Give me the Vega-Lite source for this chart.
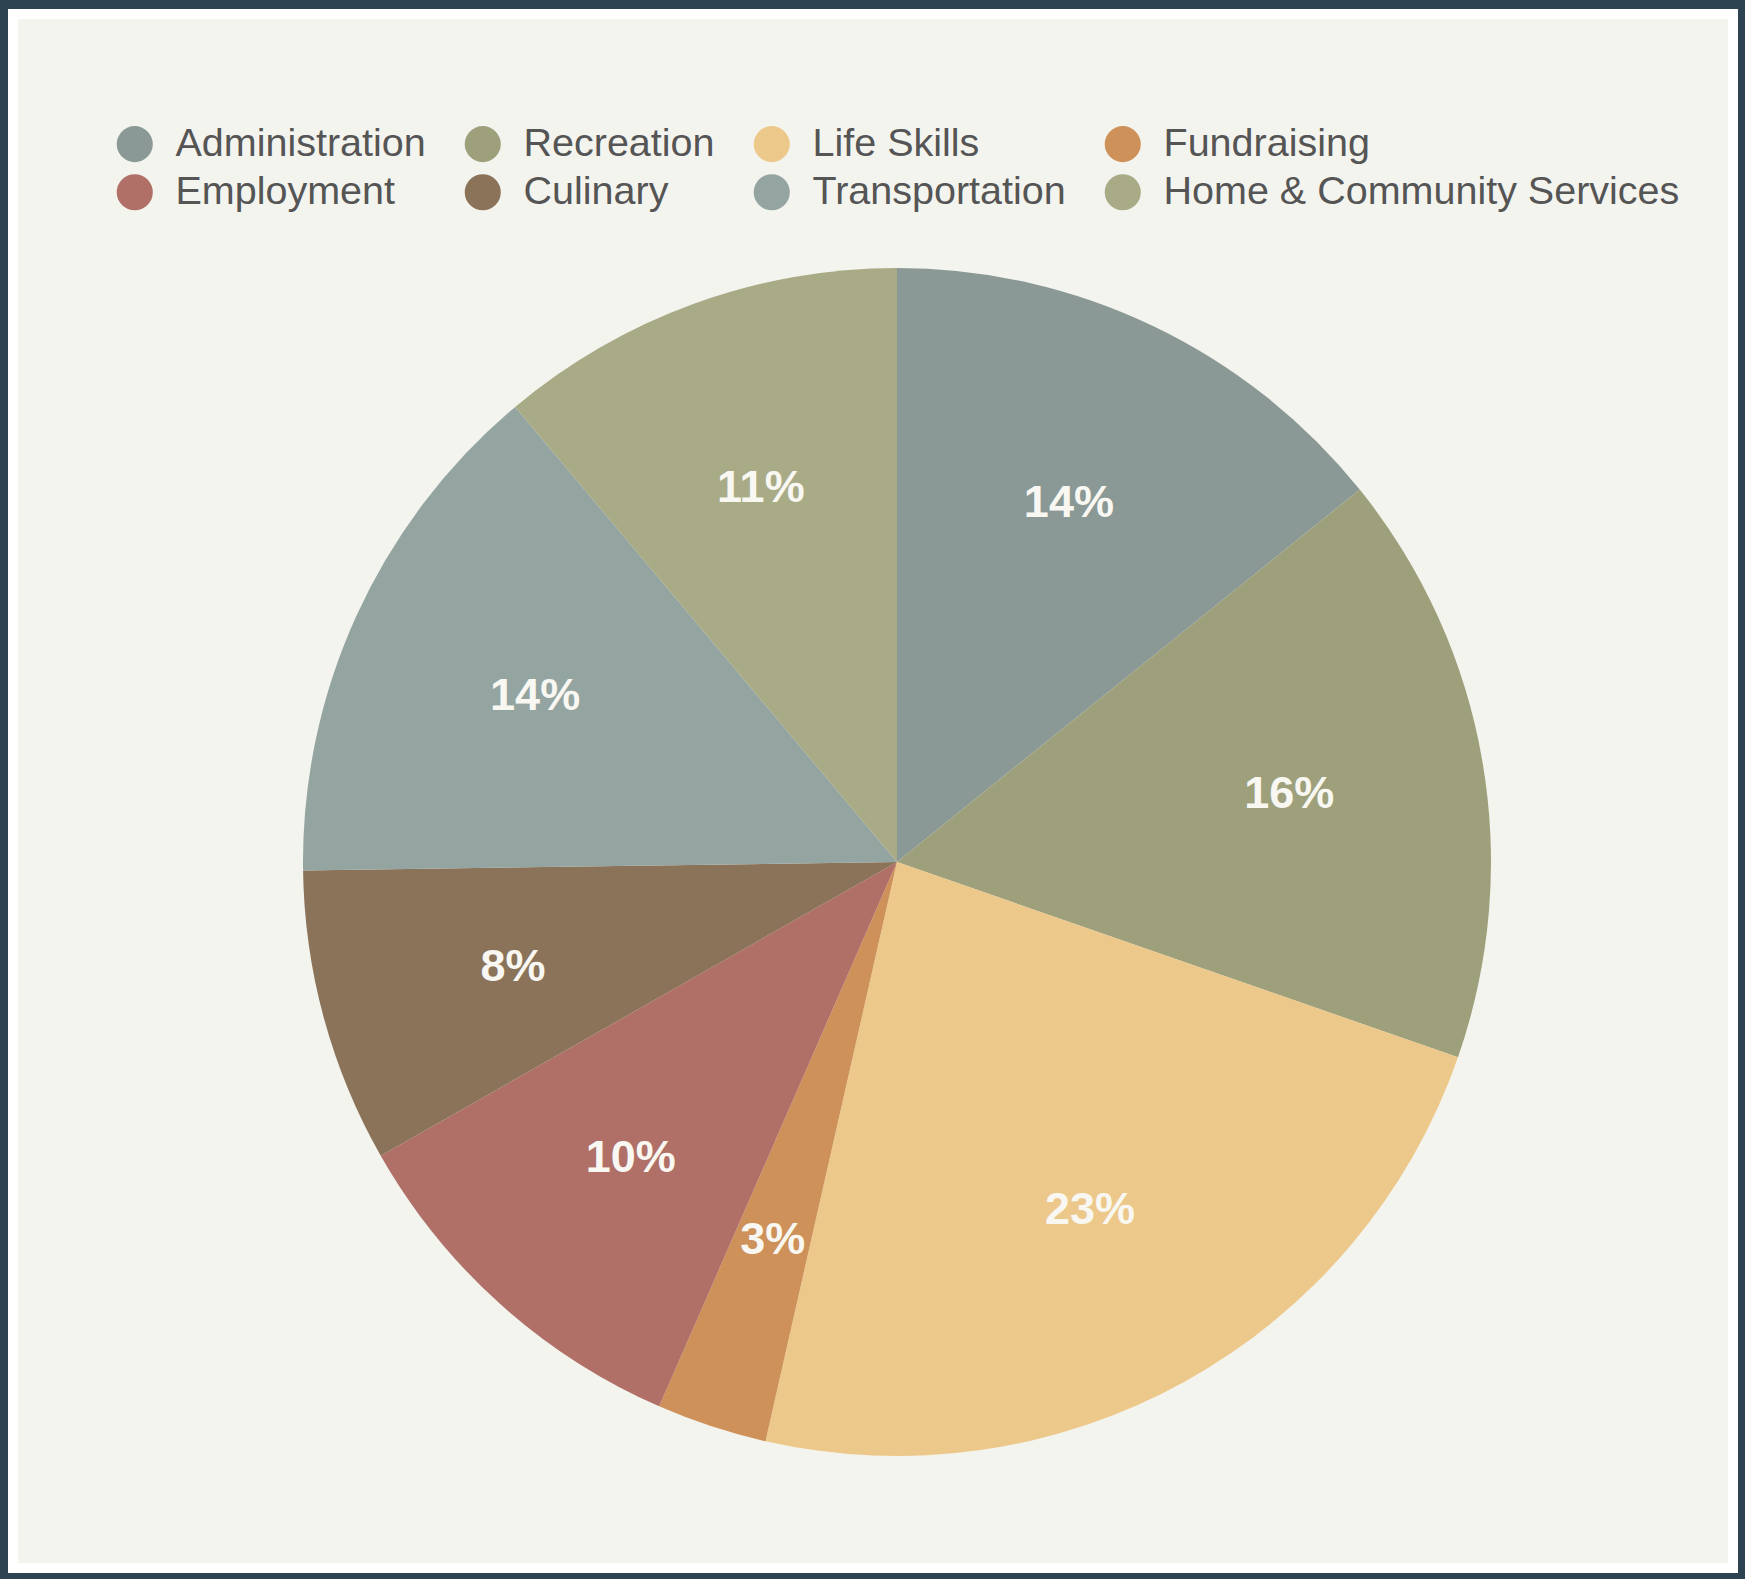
{
  "$schema": "https://vega.github.io/schema/vega-lite/v6.json",
  "autosize": "none",
  "width": 1720,
  "height": 1554,
  "padding": {"left": 13, "top": 14, "right": 12, "bottom": 11},
  "background": "#2d4352",
  "view": {"fill": "#f4f4ef", "stroke": "#ffffff", "strokeWidth": 10},
  "data": {
    "values": [
      {"category": "Administration", "share": 14.2, "label": "14%", "order": 1},
      {"category": "Recreation", "share": 16.1, "label": "16%", "order": 2},
      {"category": "Life Skills", "share": 23.2, "label": "23%", "order": 3},
      {"category": "Fundraising", "share": 3.0, "label": "3%", "order": 4},
      {"category": "Employment", "share": 10.2, "label": "10%", "order": 5},
      {"category": "Culinary", "share": 8.0, "label": "8%", "order": 6},
      {"category": "Transportation", "share": 14.1, "label": "14%", "order": 7},
      {"category": "Home & Community Services", "share": 11.1, "label": "11%", "order": 8}
    ]
  },
  "encoding": {
    "theta": {"field": "share", "type": "quantitative", "stack": true},
    "order": {"field": "order", "type": "quantitative", "sort": "ascending"},
    "color": {
      "field": "category",
      "type": "nominal",
      "scale": {
        "domain": ["Administration", "Recreation", "Life Skills", "Fundraising", "Employment", "Culinary", "Transportation", "Home & Community Services"],
        "range": ["#8a9996", "#9ea07c", "#edc88b", "#cd9159", "#b07067", "#8b7359", "#94a4a1", "#a9aa86"]
      },
      "legend": {
        "title": null,
        "orient": "none",
        "legendX": 102,
        "legendY": 110,
        "direction": "horizontal",
        "columns": 4,
        "columnPadding": 37,
        "rowPadding": 7.5,
        "padding": 0,
        "symbolType": "circle",
        "symbolSize": 1300,
        "symbolStrokeWidth": 0,
        "symbolOpacity": 1,
        "labelFont": "Liberation Sans",
        "labelFontSize": 39.5,
        "labelColor": "#555555",
        "labelOffset": 21,
        "labelLimit": 2000
      }
    }
  },
  "layer": [
    {
      "mark": {"type": "arc", "radius": 594, "x": {"expr": "width/2 + 24"}, "y": {"expr": "height/2 + 71"}}
    },
    {
      "mark": {"type": "text", "radius": 398, "x": {"expr": "width/2 + 24"}, "y": {"expr": "height/2 + 71"}, "font": "Liberation Sans", "fontSize": 45, "fontWeight": "bold", "fill": "#f8f7f2", "align": "center", "baseline": "middle"},
      "encoding": {
        "text": {"field": "label", "type": "nominal"},
        "color": {"value": "#f8f7f2"}
      }
    }
  ]
}
